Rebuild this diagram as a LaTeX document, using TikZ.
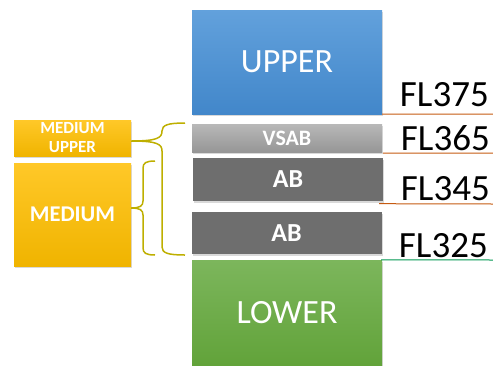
\documentclass[tikz,border=0pt]{standalone}
\usepackage{fontspec}
\setmainfont{Carlito}
\usetikzlibrary{shadows}
\definecolor{bluetop}{RGB}{98,161,220}
\definecolor{bluebot}{RGB}{66,135,202}
\definecolor{greytop}{RGB}{184,184,184}
\definecolor{greybot}{RGB}{150,150,150}
\definecolor{darkgrey}{RGB}{110,110,110}
\definecolor{greentop}{RGB}{124,182,92}
\definecolor{greenbot}{RGB}{98,163,58}
\definecolor{goldtop}{RGB}{255,200,40}
\definecolor{goldbot}{RGB}{240,180,0}
\definecolor{braceolive}{RGB}{190,175,0}
\definecolor{levelorange}{RGB}{197,90,17}
\definecolor{levelgreen}{RGB}{0,150,80}
\tikzstyle{layer} = [rectangle, inner sep=0pt, text=white, minimum width=190pt, drop shadow={shadow xshift=1pt, shadow yshift=-2pt, opacity=0.3}]
\tikzstyle{upperblock} = [layer, top color=bluetop, bottom color=bluebot, minimum height=104pt, font=\fontsize{34}{36}\selectfont]
\tikzstyle{vsab} = [layer, top color=greytop, bottom color=greybot, minimum height=28pt, font=\fontsize{22}{24}\selectfont\bfseries]
\tikzstyle{ab} = [layer, fill=darkgrey, minimum height=43pt, font=\fontsize{26}{28}\selectfont\bfseries]
\tikzstyle{lowerblock} = [layer, top color=greentop, bottom color=greenbot, minimum height=105pt, font=\fontsize{34}{36}\selectfont]
\tikzstyle{medium} = [layer, top color=goldtop, bottom color=goldbot, minimum width=117pt, align=center]
\tikzstyle{level} = [anchor=base east, inner sep=0pt, font=\fontsize{37}{40}\selectfont]
\tikzstyle{brace} = [draw=braceolive, line width=1.5pt]

\begin{document}
\begin{tikzpicture}[x=1pt, y=-1pt]
      \useasboundingbox (0,0) rectangle (493,365);
      % the stack of layers
      \node [upperblock] (upper) at (287,62) {UPPER};
      \node [vsab] (vsab) at (287,138) {VSAB};
      \node [ab] (abtop) at (288,179.5) {AB};
      \node [ab, minimum height=42pt] (abbot) at (286.5,233) {AB};
      \node [lowerblock] (lower) at (287,312.5) {LOWER};

      % flight levels
      \coordinate (fl375end) at (493,114);
      \coordinate (fl365end) at (493,153);
      \coordinate (fl345end) at (493,204);
      \coordinate (fl325end) at (493,260);
      \node [level] (fl375) at (489,106) {FL375};
      \node [level] (fl365) at (490,150) {FL365};
      \node [level] (fl345) at (490,200) {FL345};
      \node [level] (fl325) at (488,257) {FL325};
      \draw [levelorange, line width=1pt] (upper.south east) -- (fl375end);
      \draw [levelorange, line width=1pt] (vsab.south east) ++(1,1) -- (fl365end);
      \draw [levelorange, line width=1pt] (abtop.south east) ++(-4,2.5) -- (fl345end);
      \draw [levelgreen, line width=1pt] (lower.north east) ++(-1,0) -- (fl325end);

      % left side blocks
      \node [medium, minimum height=36pt, font=\fontsize{17}{19}\selectfont\bfseries] (medup) at (72.5,138) {MEDIUM\\UPPER};
      \node [medium, minimum height=103pt, font=\fontsize{22.5}{24}\selectfont\bfseries] (med) at (72.5,214.5) {MEDIUM};

      % braces
      \coordinate (upbracetop) at (185,123);
      \coordinate (upbracebot) at (185,255);
      \coordinate (lowbracetop) at (155,161);
      \coordinate (lowbracebot) at (155,255);
      \path [brace] (upbracetop) .. controls (168,123) and (162,125) .. (162,131)
            .. controls (162,138) and (157,141) .. (medup.east |- 0,141)
            .. controls (157,141) and (162,144) .. (162,151)
            -- (162,247) .. controls (162,253) and (168,255) .. (upbracebot);
      \path [brace] (lowbracetop) .. controls (146,161) and (143,163) .. (143,168)
            -- (143,201) .. controls (143,206) and (140,208) .. (med.east |- 0,208)
            .. controls (140,208) and (143,210) .. (143,215)
            -- (143,248) .. controls (143,253) and (146,255) .. (lowbracebot);
    \end{tikzpicture}
\end{document}
